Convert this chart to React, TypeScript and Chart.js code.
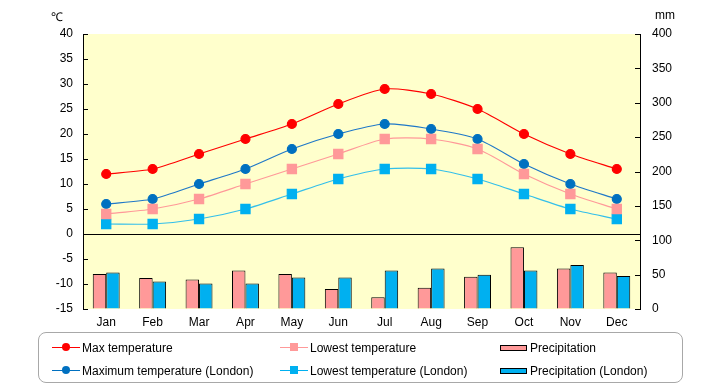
import React, { useEffect, useRef } from "react";
import { Chart, registerables } from "chart.js";

Chart.register(...registerables);

const months = ["Jan", "Feb", "Mar", "Apr", "May", "Jun", "Jul", "Aug", "Sep", "Oct", "Nov", "Dec"];
const maxTemp = [12, 13, 16, 19, 22, 26, 29, 28, 25, 20, 16, 13];
const lowTemp = [4, 5, 7, 10, 13, 16, 19, 19, 17, 12, 8, 5];
const maxTempLondon = [6, 7, 10, 13, 17, 20, 22, 21, 19, 14, 10, 7];
const lowTempLondon = [2, 2, 3, 5, 8, 11, 13, 13, 11, 8, 5, 3];
const precip = [51, 45, 43, 56, 51, 29, 17, 31, 47, 90, 59, 53];
const precipLondon = [53, 40, 37, 37, 46, 46, 56, 59, 50, 56, 64, 48];
const tempMin = -15;
const tempMax = 40;
const tempStep = 5;
const mmMin = 0;
const mmMax = 400;
const mmStep = 50;

const FONT = "'Liberation Sans', Arial, sans-serif";

const plotPlugin = {
  id: "plotDecor",
  beforeDraw(chart: any) {
    const { ctx, chartArea: a } = chart;
    ctx.save();
    ctx.fillStyle = "#FFFFCC";
    ctx.fillRect(a.left, a.top, a.right - a.left, a.bottom - a.top);
    ctx.restore();
  },
  afterDatasetsDraw(chart: any) {
    const { ctx, chartArea: a, scales } = chart;
    ctx.save();
    ctx.strokeStyle = "#000";
    ctx.lineWidth = 1;
    const y = scales.y;
    y.ticks.forEach((t: any) => {
      const p = Math.round(y.getPixelForValue(t.value)) + 0.5;
      ctx.beginPath();
      ctx.moveTo(a.left, p);
      ctx.lineTo(a.left + 5, p);
      ctx.stroke();
    });
    const yr = scales.yR;
    yr.ticks.forEach((t: any) => {
      const p = Math.round(yr.getPixelForValue(t.value)) + 0.5;
      ctx.beginPath();
      ctx.moveTo(a.right - 5, p);
      ctx.lineTo(a.right, p);
      ctx.stroke();
    });
    ctx.restore();
  },
};

function LegendItem({ kind, color, lineColor, label, x, y }: any) {
  let marker: any = null;
  if (kind === "circle") {
    marker = (
      <div style={{ position: "absolute", left: 10, top: -4, width: 8, height: 8, borderRadius: 4, background: color }} />
    );
  } else if (kind === "rect") {
    marker = <div style={{ position: "absolute", left: 10, top: -4, width: 8, height: 8, background: color }} />;
  }
  return (
    <div style={{ position: "absolute", left: x, top: y, height: 16 }}>
      {kind === "bar" ? (
        <div
          style={{
            position: "absolute",
            left: 0,
            top: 5,
            width: 25,
            height: 4,
            background: color,
            border: "1px solid #000",
          }}
        />
      ) : (
        <div style={{ position: "absolute", left: 0, top: 7, width: 28, height: 0 }}>
          <div style={{ position: "absolute", left: 0, top: 0, width: 28, height: 1, background: lineColor }} />
          {marker}
        </div>
      )}
      <span
        style={{
          position: "absolute",
          left: 30,
          top: 0,
          whiteSpace: "nowrap",
          fontFamily: FONT,
          fontSize: 12,
          lineHeight: "16px",
          color: "#000",
        }}
      >
        {label}
      </span>
    </div>
  );
}

export default function App() {
  const ref = useRef<HTMLCanvasElement | null>(null);

  useEffect(() => {
    document.body.style.margin = "0";
    const canvas = ref.current;
    if (!canvas) return;
    const chart = new Chart(canvas, {
      type: "bar",
      data: {
        labels: months,
        datasets: [
          {
            type: "line",
            label: "Max temperature",
            data: maxTemp,
            yAxisID: "y",
            borderColor: "#FF0000",
            backgroundColor: "#FF0000",
            pointBackgroundColor: "#FF0000",
            pointBorderColor: "#FF0000",
            pointStyle: "circle",
            pointRadius: 4.5,
            borderWidth: 1.2,
            tension: 0.25,
            order: 1,
          },
          {
            type: "line",
            label: "Lowest temperature",
            data: lowTemp,
            yAxisID: "y",
            borderColor: "#FF9999",
            backgroundColor: "#FF9999",
            pointBackgroundColor: "#FF9999",
            pointBorderColor: "#FF9999",
            pointStyle: "rect",
            pointRadius: 6.5,
            borderWidth: 1.2,
            tension: 0.25,
            order: 1,
          },
          {
            type: "line",
            label: "Maximum temperature (London)",
            data: maxTempLondon,
            yAxisID: "y",
            borderColor: "#1F78C8",
            backgroundColor: "#0070C0",
            pointBackgroundColor: "#0070C0",
            pointBorderColor: "#0070C0",
            pointStyle: "circle",
            pointRadius: 4.5,
            borderWidth: 1.2,
            tension: 0.25,
            order: 1,
          },
          {
            type: "line",
            label: "Lowest temperature (London)",
            data: lowTempLondon,
            yAxisID: "y",
            borderColor: "#33BFEA",
            backgroundColor: "#00B0F0",
            pointBackgroundColor: "#00B0F0",
            pointBorderColor: "#00B0F0",
            pointStyle: "rect",
            pointRadius: 6.5,
            borderWidth: 1.2,
            tension: 0.25,
            order: 1,
          },
          {
            type: "bar",
            label: "Precipitation",
            data: precip,
            yAxisID: "yR",
            backgroundColor: "#FF9999",
            borderColor: "#000",
            borderWidth: 1,
            categoryPercentage: 0.58,
            barPercentage: 1,
            order: 2,
          },
          {
            type: "bar",
            label: "Precipitation (London)",
            data: precipLondon,
            yAxisID: "yR",
            backgroundColor: "#00B0F0",
            borderColor: "#000",
            borderWidth: 1,
            categoryPercentage: 0.58,
            barPercentage: 1,
            order: 2,
          },
        ],
      },
      options: {
        responsive: false,
        animation: false,
        layout: { padding: { top: 34, left: 0, right: 0, bottom: 0 } },
        plugins: { legend: { display: false }, tooltip: { enabled: false } },
        scales: {
          x: {
            grid: { display: false, drawTicks: false },
            border: { display: false },
            ticks: { color: "#000", font: { family: FONT, size: 12 }, padding: 6 },
            afterFit: (s: any) => {
              s.height = 76;
            },
          },
          y: {
            position: "left",
            min: tempMin,
            max: tempMax,
            ticks: { stepSize: tempStep, color: "#000", font: { family: FONT, size: 12 }, padding: 10 },
            grid: {
              drawTicks: false,
              color: (c: any) => (c.tick && c.tick.value === 0 ? "#000" : "rgba(0,0,0,0)"),
              lineWidth: 1,
            },
            border: { display: true, color: "#000", width: 1 },
            afterFit: (s: any) => {
              s.width = 83;
            },
          },
          yR: {
            position: "right",
            min: mmMin,
            max: mmMax,
            ticks: { stepSize: mmStep, color: "#000", font: { family: FONT, size: 12 }, padding: 12 },
            grid: { drawOnChartArea: false, drawTicks: false },
            border: { display: true, color: "#000", width: 1 },
            afterFit: (s: any) => {
              s.width = 80;
            },
          },
        },
      },
      plugins: [plotPlugin],
    } as any);
    return () => chart.destroy();
  }, []);

  return (
    <div style={{ position: "relative", width: 720, height: 385, background: "#fff" }}>
      <canvas ref={ref} width={720} height={385} style={{ position: "absolute", left: 0, top: 0 }} />
      <span style={{ position: "absolute", left: 51, top: 8, fontFamily: FONT, fontSize: 12, color: "#000" }}>℃</span>
      <span style={{ position: "absolute", left: 655, top: 8, fontFamily: FONT, fontSize: 12, color: "#000" }}>mm</span>
      <div
        style={{
          position: "absolute",
          left: 38,
          top: 332,
          width: 645,
          height: 51,
          border: "1px solid #A8A8A8",
          borderRadius: 8,
          boxSizing: "border-box",
        }}
      />
      <LegendItem kind="circle" color="#FF0000" lineColor="#FF0000" label="Max temperature" x={52} y={340} />
      <LegendItem kind="rect" color="#FF9999" lineColor="#FF9999" label="Lowest temperature" x={280} y={340} />
      <LegendItem kind="bar" color="#FF9999" label="Precipitation" x={500} y={340} />
      <LegendItem kind="circle" color="#0070C0" lineColor="#0070C0" label="Maximum temperature (London)" x={52} y={363} />
      <LegendItem kind="rect" color="#00B0F0" lineColor="#00B0F0" label="Lowest temperature (London)" x={280} y={363} />
      <LegendItem kind="bar" color="#00B0F0" label="Precipitation (London)" x={500} y={363} />
    </div>
  );
}
